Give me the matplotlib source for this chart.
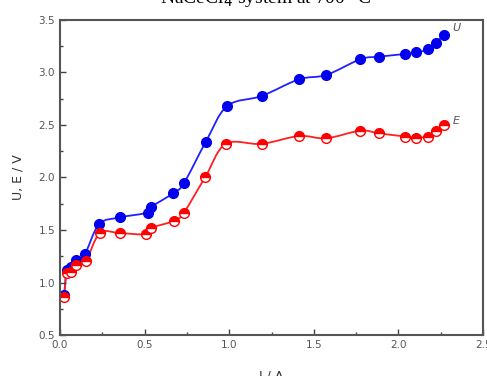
import numpy as np
import matplotlib
matplotlib.use("Agg")
from matplotlib import pyplot as plt
from matplotlib.path import Path
from matplotlib.patches import PathPatch

# current, A
I_u = [0.025, 0.04, 0.065, 0.098, 0.148, 0.232, 0.356, 0.518, 0.541, 0.669, 0.732,
       0.862, 0.988, 1.192, 1.413, 1.574, 1.775, 1.885, 2.04, 2.105, 2.176, 2.22, 2.27]
# cell voltage U, V
U = [0.88, 1.12, 1.15, 1.21, 1.27, 1.556, 1.62, 1.665, 1.72, 1.85, 1.944,
     2.34, 2.68, 2.776, 2.935, 2.976, 3.126, 3.15, 3.176, 3.19, 3.22, 3.28, 3.36]

I_e = [0.025, 0.04, 0.065, 0.098, 0.152, 0.236, 0.354, 0.51, 0.54, 0.673, 0.732,
       0.86, 0.98, 1.192, 1.413, 1.574, 1.775, 1.885, 2.04, 2.105, 2.176, 2.22, 2.27]
# decomposition potential E, V
E = [0.86, 1.09, 1.10, 1.17, 1.20, 1.47, 1.47, 1.46, 1.52, 1.586, 1.665,
     2.008, 2.32, 2.32, 2.395, 2.373, 2.446, 2.42, 2.39, 2.38, 2.39, 2.44, 2.497]

x_ticks = [0.0, 0.5, 1.0, 1.5, 2.0, 2.5]
y_ticks = [0.5, 1.0, 1.5, 2.0, 2.5, 3.0, 3.5]


def smooth_path(xs, ys):
    # Catmull-Rom through the points, drawn as cubic bezier segments
    p = np.column_stack([xs, ys])
    p = np.vstack([p[0], p, p[-1]])
    verts = [p[1]]
    codes = [Path.MOVETO]
    for i in range(1, len(p) - 2):
        c1 = p[i] + (p[i + 1] - p[i - 1]) / 6
        c2 = p[i + 1] - (p[i + 2] - p[i]) / 6
        verts += [c1, c2, p[i + 1]]
        codes += [Path.CURVE4] * 3
    return Path(verts, codes)


fig = plt.figure(figsize=(4.87, 3.76), dpi=100)
ax = fig.add_axes([0.123, 0.109, 0.869, 0.838])

ax.add_patch(PathPatch(smooth_path(I_u, U), fill=False, edgecolor="#2020ff", lw=1.3))
ax.add_patch(PathPatch(smooth_path(I_e, E), fill=False, edgecolor="#ff2020", lw=1.3))
ax.plot(I_u, U, "o", color="#0000ee", ms=7, mec="#0000ee")
ax.plot(I_e, E, "o", ms=7, color="#ff0000", fillstyle="top",
        markerfacecoloralt="white", mec="#ff0000", mew=1.0)

ax.text(2.32, 3.39, "U", fontsize=8, style="italic", color="#555555")
ax.text(2.32, 2.51, "E", fontsize=8, style="italic", color="#555555")

ax.set_xlim(0, 2.5)
ax.set_ylim(0.5, 3.5)
ax.set_xticks(x_ticks)
ax.set_yticks(y_ticks)
ax.set_xticks(np.arange(0.25, 2.5, 0.5), minor=True)
ax.set_yticks(np.arange(0.75, 3.5, 0.5), minor=True)
ax.tick_params(which="both", direction="in", top=False, right=False,
               labelsize=7.5, labelcolor="#555555", color="#444444")
ax.tick_params(which="major", length=4, width=1)
ax.tick_params(which="minor", length=2, width=1)
for s in ax.spines.values():
    s.set_color("#555555")
    s.set_linewidth(1.5)

ax.set_xlabel("I / A", fontsize=9, color="#333333", labelpad=14)
ax.set_ylabel("U, E / V", fontsize=9, color="#333333", labelpad=10)

fig.text(0.545, 0.992, r"NaCeCl$_4$ system at 700 °C", ha="center", va="baseline",
         fontsize=14, family="Liberation Serif")

fig.savefig("out.png", dpi=100)
